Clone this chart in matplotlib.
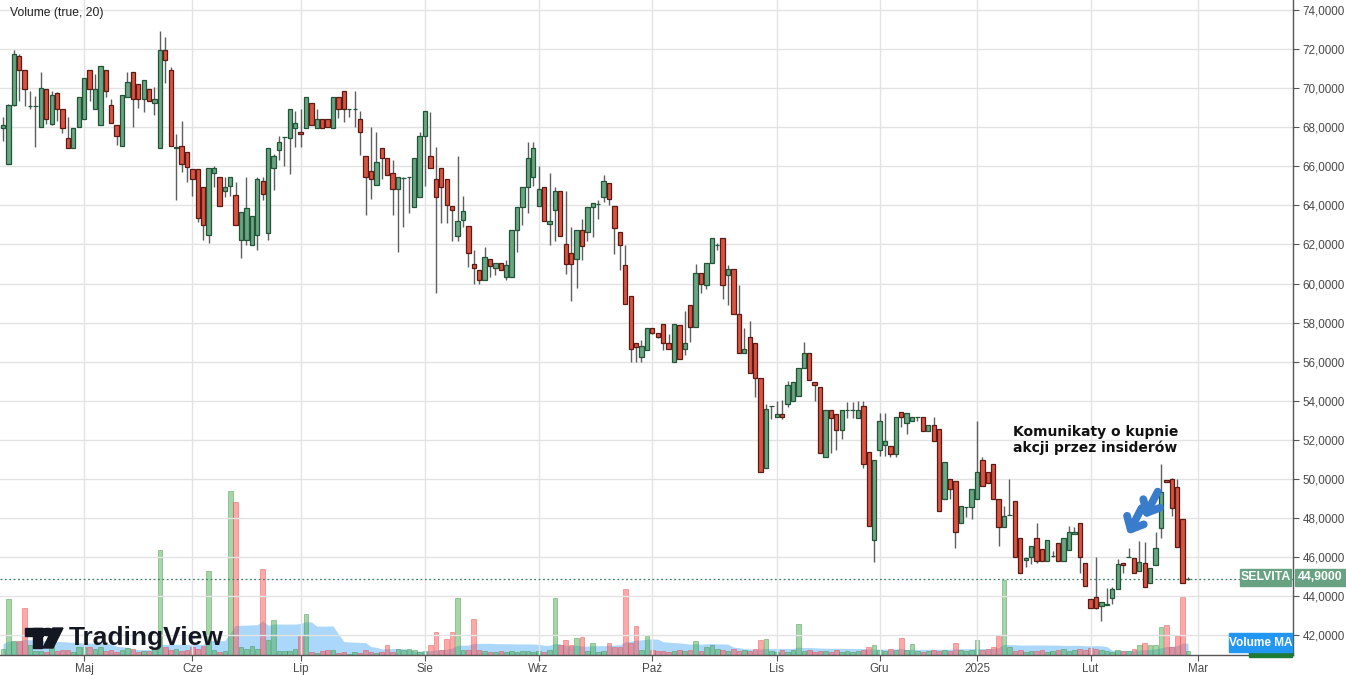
import numpy as np
import pandas as pd
import matplotlib
matplotlib.use('Agg')
import matplotlib.pyplot as plt
from matplotlib.patches import Rectangle, Circle, Polygon

# daily candles, Selvita
opens = [67.97, 66.13, 69.14, 71.66, 70.93, 69.06, 69.06, 68.03, 69.96, 68.14,
         69.75, 68.94, 67.46, 66.96, 68.0, 68.43, 70.93, 68.94, 68.12, 70.93,
         69.14, 68.12, 67.03, 69.53, 70.8, 70.2, 69.45, 69.96, 69.24, 66.96,
         71.95, 70.93, 66.95, 67.03, 66.72, 65.87, 65.87, 64.94, 62.47, 65.65,
         65.45, 64.74, 64.97, 64.54, 62.25, 62.25, 61.96, 62.47, 65.24, 62.6,
         65.92, 66.81, 67.49, 67.46, 67.97, 67.78, 67.96, 69.24, 67.97, 68.43,
         68.43, 67.96, 69.56, 69.86, 68.93, 68.93, 68.42, 66.55, 65.78, 65.05,
         66.94, 66.43, 65.66, 64.85, 65.38, 65.44, 63.91, 64.42, 67.57, 66.55,
         65.36, 65.92, 65.36, 63.95, 62.43, 63.27, 62.96, 60.99, 60.68, 60.17,
         61.28, 60.77, 61.06, 60.34, 60.34, 62.76, 63.91, 64.93, 65.44, 63.95,
         64.93, 63.06, 63.78, 64.76, 62.04, 61.58, 61.28, 62.76, 62.64, 63.91,
         64.05, 64.42, 65.15, 63.95, 62.64, 60.97, 59.37, 56.98, 56.25, 56.59,
         57.7, 57.49, 57.95, 56.98, 55.96, 57.87, 56.67, 58.89, 57.78, 60.56,
         59.95, 61.07, 61.96, 62.35, 60.46, 60.76, 58.46, 56.47, 57.27, 56.98,
         55.19, 50.58, 53.73, 53.18, 53.3, 53.86, 53.98, 54.26, 55.69, 56.47,
         54.97, 54.68, 51.1, 53.52, 53.3, 52.5, 53.52, 53.52, 53.1, 53.74,
         51.39, 46.87, 51.47, 51.75, 51.7, 51.27, 53.45, 52.86, 52.94, 53.15,
         53.15, 52.46, 52.75, 52.55, 48.97, 49.99, 49.9, 47.77, 48.54, 48.54,
         48.97, 50.96, 50.33, 50.76, 48.97, 47.52, 48.16, 48.88, 46.97, 45.84,
         45.98, 46.96, 46.41, 45.81, 46.07, 46.7, 45.81, 46.35, 47.17, 47.72,
         45.72, 43.85, 43.97, 43.51, 43.54, 43.93, 44.36, 45.69, 45.98, 45.94,
         45.3, 45.69, 44.65, 45.6, 47.48, 49.94, 49.99, 49.6, 47.94, 44.87]
highs = [68.5, 69.2, 71.95, 71.74, 70.93, 69.87, 69.6, 70.84, 69.96, 69.87,
         69.8, 68.94, 68.51, 67.97, 69.53, 70.5, 70.93, 70.72, 71.12, 70.93,
         69.45, 68.12, 69.65, 70.84, 70.8, 70.2, 70.4, 69.96, 70.04, 72.94,
         72.63, 71.06, 67.66, 68.34, 66.72, 65.87, 65.87, 64.94, 65.92, 66.04,
         65.45, 65.45, 65.45, 65.19, 63.66, 65.45, 63.45, 65.45, 65.45, 66.94,
         66.64, 67.57, 67.49, 68.94, 68.85, 68.94, 69.53, 69.24, 68.94, 68.43,
         68.43, 69.56, 69.56, 69.86, 68.93, 69.86, 68.84, 66.55, 68.0, 67.77,
         66.94, 66.43, 66.33, 65.44, 65.44, 65.44, 66.43, 67.74, 68.84, 68.76,
         66.97, 65.92, 65.36, 63.95, 66.55, 64.46, 62.96, 61.7, 60.68, 61.87,
         61.28, 61.06, 61.06, 61.19, 62.76, 63.91, 64.93, 67.23, 67.23, 66.04,
         64.93, 65.65, 64.93, 64.76, 64.76, 62.89, 62.76, 63.32, 63.91, 64.13,
         64.25, 65.56, 65.15, 63.95, 62.64, 61.96, 59.37, 56.98, 57.1, 57.7,
         57.7, 57.49, 57.95, 57.44, 57.95, 57.87, 58.58, 58.89, 60.98, 60.56,
         61.07, 62.35, 62.07, 62.35, 60.97, 60.76, 59.91, 57.73, 58.07, 56.98,
         55.19, 53.86, 53.73, 53.98, 54.03, 55.0, 54.97, 55.69, 57.02, 56.47,
         54.97, 54.68, 53.52, 53.52, 53.3, 53.52, 53.95, 53.95, 53.98, 53.98,
         51.39, 50.96, 53.35, 53.35, 51.7, 53.18, 53.45, 53.35, 53.15, 53.15,
         53.15, 52.75, 53.15, 52.55, 50.88, 49.99, 49.9, 48.62, 48.54, 49.48,
         52.98, 51.1, 50.33, 50.76, 48.97, 48.62, 49.99, 48.88, 46.97, 45.98,
         46.58, 47.77, 46.41, 46.87, 46.3, 46.7, 46.97, 47.6, 47.55, 47.72,
         45.72, 43.85, 45.98, 43.68, 44.44, 44.48, 45.89, 45.69, 46.49, 45.94,
         46.83, 46.75, 45.43, 47.26, 50.76, 49.94, 50.05, 49.99, 47.94, 45.0]
lows = [67.3, 66.1, 69.1, 69.36, 69.06, 68.95, 66.98, 68.0, 68.17, 68.1,
        68.34, 67.69, 66.96, 66.96, 68.0, 68.43, 69.36, 68.94, 68.12, 69.53,
        68.22, 67.1, 67.03, 69.53, 68.0, 69.0, 68.77, 69.36, 68.6, 66.96,
        70.25, 67.03, 64.3, 65.7, 65.19, 64.5, 63.15, 62.21, 62.07, 64.94,
        63.95, 64.43, 64.5, 62.98, 61.33, 61.96, 61.96, 61.74, 64.3, 62.21,
        64.8, 66.3, 66.04, 65.6, 66.98, 66.98, 67.96, 68.12, 67.97, 67.97,
        68.0, 67.96, 68.47, 68.25, 68.54, 68.0, 66.6, 63.49, 64.34, 65.05,
        65.36, 65.56, 63.49, 61.62, 62.9, 63.6, 63.91, 64.42, 64.97, 65.9,
        59.49, 63.1, 63.1, 62.16, 62.2, 62.9, 60.85, 60.0, 60.0, 60.17,
        60.34, 60.43, 60.68, 60.2, 60.34, 61.62, 63.0, 63.6, 64.97, 63.95,
        63.18, 61.99, 62.16, 62.43, 60.48, 59.12, 59.75, 61.19, 62.16, 62.38,
        63.3, 64.17, 64.0, 61.53, 60.71, 58.97, 55.99, 55.99, 55.99, 56.59,
        57.4, 57.2, 56.59, 56.67, 55.96, 56.16, 56.33, 57.02, 57.78, 59.52,
        59.74, 61.07, 61.7, 59.2, 58.92, 58.46, 56.47, 56.47, 55.4, 54.2,
        50.37, 50.58, 53.05, 53.18, 53.05, 53.66, 53.98, 54.26, 55.69, 55.06,
        54.0, 51.31, 51.1, 51.31, 51.48, 52.02, 53.1, 53.1, 53.1, 50.58,
        47.6, 45.77, 51.18, 51.18, 51.1, 51.1, 52.67, 52.29, 52.94, 52.98,
        52.46, 52.46, 51.95, 48.37, 48.97, 48.97, 46.49, 47.77, 48.03, 47.94,
        48.97, 49.65, 49.77, 48.97, 46.58, 47.52, 48.16, 45.98, 45.21, 45.5,
        45.64, 45.72, 45.81, 45.81, 46.0, 45.81, 45.81, 46.35, 47.17, 45.21,
        44.53, 43.42, 43.33, 42.74, 43.54, 43.59, 44.36, 45.21, 45.98, 45.21,
        45.3, 44.48, 44.65, 45.6, 47.0, 49.82, 48.11, 46.52, 44.65, 44.82]
closes = [68.12, 69.14, 71.74, 70.93, 69.96, 69.06, 69.06, 70.0, 68.43, 69.65,
          68.94, 67.97, 66.96, 67.97, 69.53, 70.5, 69.96, 69.96, 71.12, 69.87,
          68.22, 67.56, 69.65, 70.3, 69.45, 69.45, 70.4, 69.36, 69.45, 71.95,
          71.44, 67.03, 67.0, 66.13, 65.96, 65.36, 63.37, 62.98, 65.92, 65.92,
          63.95, 64.94, 65.45, 62.98, 63.66, 63.88, 63.45, 65.36, 64.56, 66.94,
          66.55, 67.23, 67.49, 68.94, 68.22, 67.66, 69.53, 68.12, 68.43, 67.97,
          68.0, 69.56, 68.93, 68.93, 68.93, 68.93, 67.74, 65.44, 65.36, 66.24,
          66.43, 65.56, 64.85, 65.44, 65.41, 65.44, 66.43, 67.57, 68.84, 65.9,
          64.42, 64.93, 64.03, 63.74, 63.18, 63.69, 61.58, 60.77, 60.17, 61.36,
          60.88, 61.06, 60.68, 60.97, 62.76, 63.91, 64.93, 66.43, 66.94, 64.85,
          63.18, 63.18, 64.76, 62.43, 60.99, 60.99, 62.76, 61.92, 63.91, 64.13,
          64.05, 65.27, 64.34, 62.86, 61.96, 58.97, 56.67, 56.76, 56.79, 57.7,
          57.48, 57.27, 56.98, 56.67, 57.95, 56.16, 56.98, 57.78, 60.56, 59.96,
          61.07, 62.35, 61.96, 59.95, 60.76, 58.46, 56.47, 56.67, 55.4, 55.19,
          50.37, 53.6, 53.73, 53.3, 53.18, 54.8, 54.97, 55.69, 56.47, 55.06,
          54.8, 51.31, 53.52, 53.1, 52.5, 53.52, 53.52, 53.52, 53.52, 50.76,
          47.6, 50.96, 52.98, 51.96, 51.27, 53.18, 53.15, 53.35, 53.15, 53.15,
          52.46, 52.75, 51.95, 48.37, 50.88, 49.48, 47.26, 48.62, 48.54, 49.48,
          50.37, 49.65, 49.77, 48.97, 47.52, 48.11, 48.16, 45.98, 45.21, 45.96,
          46.58, 45.81, 45.81, 46.87, 46.07, 45.81, 46.97, 47.26, 47.26, 45.98,
          44.53, 43.42, 43.42, 43.68, 43.59, 44.36, 45.64, 45.6, 45.98, 45.21,
          45.77, 44.48, 45.43, 46.46, 49.31, 49.82, 48.5, 46.52, 44.65, 44.9]

# volume (thousands of shares); the first list is the 19 sessions before the window
volume_before = [8, 15, 10, 12, 20, 9, 14, 11, 7, 16, 10, 13, 9, 12, 18, 8, 11, 10, 9]
volume = [6, 56, 14, 14, 47, 10, 4, 4, 3, 10, 4, 5, 5, 3, 8, 8, 8, 6, 8, 4,
          5, 3, 5, 7, 6, 3, 4, 4, 7, 105, 8, 5, 6, 4, 5, 8, 6, 9, 84, 5,
          3, 4, 164, 153, 8, 6, 9, 6, 86, 15, 35, 4, 4, 4, 6, 20, 41, 3, 2, 4,
          5, 5, 2, 3, 1, 3, 2, 5, 3, 2, 3, 10, 3, 6, 5, 6, 5, 3, 4, 10,
          23, 5, 16, 23, 57, 5, 5, 36, 5, 4, 3, 3, 4, 3, 4, 3, 4, 4, 3, 4,
          3, 5, 57, 10, 15, 10, 17, 18, 4, 12, 3, 4, 12, 8, 8, 66, 12, 29, 5, 19,
          5, 4, 4, 3, 4, 5, 4, 5, 14, 4, 8, 10, 6, 5, 4, 6, 4, 5, 4, 6,
          15, 16, 4, 3, 5, 3, 5, 31, 4, 5, 3, 4, 4, 3, 5, 3, 4, 3, 4, 5,
          8, 10, 5, 4, 6, 5, 17, 5, 11, 4, 3, 4, 5, 4, 5, 4, 12, 5, 4, 5,
          15, 5, 6, 8, 19, 75, 8, 4, 5, 3, 4, 4, 5, 3, 4, 5, 6, 4, 5, 6,
          5, 7, 6, 5, 4, 3, 5, 4, 4, 6, 10, 12, 10, 10, 28, 30, 8, 19, 58, 4]

month_pos = [15, 35, 55, 78, 99, 120, 143, 162, 180, 201, 220.8]
month_labels = ['Maj', 'Cze', 'Lip', 'Sie', 'Wrz', 'Paź', 'Lis', 'Gru', '2025', 'Lut', 'Mar']
price_ticks = list(range(42, 76, 2))
last_price = 44.9
note = 'Komunikaty o kupnie\nakcji przez insiderów'
# insider-purchase markers: (tail bar, tail price, tip bar, tip price)
markers = [(210.4, 48.5, 208.4, 47.42), (213.4, 49.35, 211.4, 48.27)]

W, H = 1346, 675
fig = plt.figure(figsize=(W / 100, H / 100), dpi=100)
ax = fig.add_axes([0, 20 / H, 1293 / W, 655 / H])
axv = ax.twinx()
ax.set_zorder(axv.get_zorder() + 1)
ax.patch.set_visible(False)

o = np.array(opens); h = np.array(highs); l = np.array(lows); c = np.array(closes)
x = np.arange(len(o))
up = c >= o

# volume + 20 MA
vol_all = pd.Series(volume_before + volume, dtype=float)
vol_ma = vol_all.rolling(20, min_periods=1).mean().values[len(volume_before):]
axv.fill_between(x, 0, vol_ma, color='#2196f3', alpha=0.38, lw=0)
axv.bar(x[up], np.array(volume)[up], width=0.85, color='#4caf50', alpha=0.5,
        edgecolor='#3d8f40', linewidth=0.6)
axv.bar(x[~up], np.array(volume)[~up], width=0.85, color='#ff5252', alpha=0.5,
        edgecolor='#e04848', linewidth=0.6)
axv.set_ylim(0, 655)
axv.set_yticks([])
for s in axv.spines.values():
    s.set_visible(False)

# candles
ax.vlines(x, l, h, color='#5f5f60', lw=1.0, zorder=2)
body_lo = np.minimum(o, c)
body_h = np.abs(c - o)
ax.bar(x[up], body_h[up], bottom=body_lo[up], width=0.8, color='#6ba583',
       edgecolor='#225437', linewidth=0.9, zorder=3)
ax.bar(x[~up], body_h[~up], bottom=body_lo[~up], width=0.8, color='#d75442',
       edgecolor='#5b1a13', linewidth=0.9, zorder=3)

ax.axhline(last_price, color='#3f7f6a', lw=0.9, ls=(0, (1.5, 2)), zorder=1)

ax.set_xlim(-0.55, 238.4)
ax.set_ylim(40.99, 74.51)
ax.yaxis.tick_right()
ax.set_yticks(price_ticks)
ax.set_yticklabels([f'{v:.4f}'.replace('.', ',') for v in price_ticks])
ax.set_xticks(month_pos)
ax.set_xticklabels(month_labels)
ax.tick_params(axis='both', colors='#555555', labelcolor='#4a4a4a', labelsize=8.4,
               length=4, width=0.8)
ax.tick_params(axis='y', pad=3)
ax.tick_params(axis='x', pad=2)
for lab in ax.get_xticklabels() + ax.get_yticklabels():
    lab.set_fontfamily('Liberation Sans')
ax.grid(True, color='#e3e3e3', lw=1.0, zorder=0)
ax.set_axisbelow(True)
for side in ['top', 'left']:
    ax.spines[side].set_visible(False)
for side in ['right', 'bottom']:
    ax.spines[side].set_color('#555555')
    ax.spines[side].set_linewidth(1.0)

# annotation and arrows
ax.text(186.6, 52.78, note, ha='left', va='top', fontsize=10, fontweight='bold',
        family='DejaVu Sans', color='#111111', linespacing=1.15, zorder=6)

inv = ax.transData.inverted()
for (xt, yt, xh, yh) in markers:
    tail = ax.transData.transform((xt, yt))
    tip = ax.transData.transform((xh, yh))
    u = (tail - tip) / np.hypot(*(tail - tip))
    arms = []
    for ang in (np.radians(42), -np.radians(42)):
        rot = np.array([[np.cos(ang), -np.sin(ang)], [np.sin(ang), np.cos(ang)]])
        arms.append(tip + 14 * rot @ u)
    pts = inv.transform(np.array([arms[0], tip, arms[1]]))
    shaft = inv.transform(np.array([tip, tail]))
    for seg in (pts, shaft):
        ax.plot(seg[:, 0], seg[:, 1], color='#3a7ccc', lw=5.6,
                solid_capstyle='round', solid_joinstyle='round', zorder=6)


def fx(px):
    return px / W


def fy(py):
    return 1 - py / H


fig.text(fx(10), fy(13), 'Volume (true, 20)', fontsize=8.7, family='Liberation Sans',
         color='#222222', va='center', ha='left')

# price tag
fig.add_artist(Rectangle((fx(1240), fy(586)), fx(51), 17 / H, transform=fig.transFigure,
                         color='#67a383', zorder=10))
fig.add_artist(Rectangle((fx(1295), fy(586)), fx(51), 17 / H, transform=fig.transFigure,
                         color='#67a383', zorder=10))
fig.text(fx(1266), fy(577.5), 'SELVITA', color='white', fontsize=8.8, fontweight='bold',
         ha='center', va='center', family='Liberation Sans', zorder=11)
fig.text(fx(1320.5), fy(577.5), '44,9000', color='white', fontsize=8.8, fontweight='bold',
         ha='center', va='center', family='Liberation Sans', zorder=11)

# volume labels
fig.add_artist(Rectangle((fx(1249), fy(657)), fx(43), 13 / H, transform=fig.transFigure,
                         color='#1e7b34', zorder=10))
fig.add_artist(Rectangle((fx(1229), fy(652)), fx(63), 19 / H, transform=fig.transFigure,
                         color='#2196f3', zorder=11))
fig.text(fx(1260.5), fy(642.5), 'Volume MA', color='white', fontsize=8.6, fontweight='bold',
         ha='center', va='center', family='Liberation Sans', zorder=12)

# TradingView watermark
logo_col = '#131722'
fig.add_artist(Rectangle((fx(25), fy(636)), fx(18), 8 / H, transform=fig.transFigure,
                         color=logo_col, zorder=10))
fig.add_artist(Rectangle((fx(33), fy(648)), fx(9), 20 / H, transform=fig.transFigure,
                         color=logo_col, zorder=10))
fig.add_artist(Circle((fx(47.5), fy(632)), 3.6 / H, transform=fig.transFigure, color=logo_col, zorder=10))
fig.add_artist(Polygon([(fx(53), fy(628)), (fx(63), fy(628)), (fx(53), fy(648)), (fx(43), fy(648))],
                       closed=True, transform=fig.transFigure, color=logo_col, zorder=10))
fig.text(fx(69), fy(638), 'TradingView', fontsize=19, fontweight='bold',
         family='Liberation Sans', color=logo_col, va='center', ha='left', zorder=10)

fig.savefig('out.png', dpi=100)
